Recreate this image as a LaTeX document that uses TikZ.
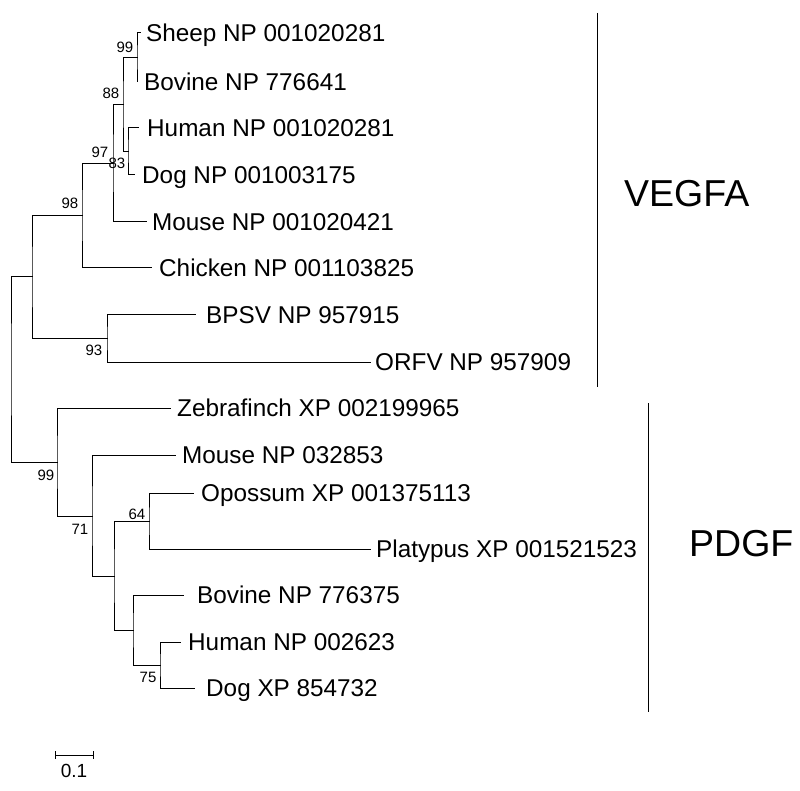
\documentclass[tikz,border=0pt]{standalone}
\usepackage{fontspec}
\setmainfont{Liberation Sans}
\usetikzlibrary{calc}
\tikzset{
  br/.style={line width=1pt, line cap=rect},
  leaf/.style={anchor=west, inner sep=0pt, text height=17.3pt, text depth=0pt, font=\fontsize{24.3}{28}\selectfont},
  boot/.style={anchor=center, inner sep=0pt, text height=10.7pt, text depth=0pt, font=\fontsize{15}{18}\selectfont},
  group/.style={anchor=west, inner sep=0pt, text height=26.8pt, text depth=0pt, font=\fontsize{37.5}{44}\selectfont},
}
\begin{document}
\begin{tikzpicture}[x=1pt,y=-1pt]
\useasboundingbox (0,0) rectangle (800,791);
% leaf ends
\coordinate (lSheep) at (140,33);
\coordinate (lBovine) at (137,82);
\coordinate (lHuman) at (138,128);
\coordinate (lDog) at (134,175);
\coordinate (lMouseV) at (146,222);
\coordinate (lChicken) at (151,268);
\coordinate (lBPSV) at (195,315);
\coordinate (lORFV) at (370,362);
\coordinate (lZebra) at (170,408);
\coordinate (lMouseP) at (175,455);
\coordinate (lOpossum) at (193,493);
\coordinate (lPlatypus) at (370,549);
\coordinate (lBovineP) at (183,595);
\coordinate (lHumanP) at (180,642);
\coordinate (lDogP) at (194,688);
% internal nodes
\coordinate (nSB) at (137,57.5);
\coordinate (nHD) at (128,151.5);
\coordinate (n88) at (123,104.5);
\coordinate (n97) at (113,163.5);
\coordinate (n98) at (82,215.5);
\coordinate (n93) at (107,338.5);
\coordinate (nV) at (32,277);
\coordinate (n75) at (160,665);
\coordinate (nY) at (133,630);
\coordinate (n64) at (149,521);
\coordinate (nX) at (114,576);
\coordinate (n71) at (92,516);
\coordinate (nP) at (57,462);
\coordinate (root) at (11,369.5);
% branches
\draw[br] (lSheep) -| (nSB) |- (lBovine);
\draw[br] (lHuman) -| (nHD) |- (lDog);
\draw[br] (nSB) -| (n88) |- (nHD);
\draw[br] (n88) -| (n97) |- (lMouseV);
\draw[br] (n97) -| (n98) |- (lChicken);
\draw[br] (lBPSV) -| (n93) |- (lORFV);
\draw[br] (n98) -| (nV) |- (n93);
\draw[br] (lHumanP) -| (n75) |- (lDogP);
\draw[br] (lBovineP) -| (nY) |- (n75);
\draw[br] (lOpossum) -| (n64) |- (lPlatypus);
\draw[br] (n64) -| (nX) |- (nY);
\draw[br] (lMouseP) -| (n71) |- (nX);
\draw[br] (lZebra) -| (nP) |- (n71);
\draw[br] (nV) -| (root) |- (nP);
% leaf labels
\node[leaf] (tSheep) at (146,33) {Sheep NP 001020281};
\node[leaf] (tBovine) at (144,82) {Bovine NP 776641};
\node[leaf] (tHuman) at (147,128) {Human NP 001020281};
\node[leaf] (tDog) at (142,175) {Dog NP 001003175};
\node[leaf] (tMouseV) at (152,222) {Mouse NP 001020421};
\node[leaf] (tChicken) at (159,268) {Chicken NP 001103825};
\node[leaf] (tBPSV) at (206,315) {BPSV NP 957915};
\node[leaf] (tORFV) at (375,362) {ORFV NP 957909};
\node[leaf] (tZebra) at (177,408) {Zebrafinch XP 002199965};
\node[leaf] (tMouseP) at (182,455) {Mouse NP 032853};
\node[leaf] (tOpossum) at (201,493) {Opossum XP 001375113};
\node[leaf] (tPlatypus) at (376,549) {Platypus XP 001521523};
\node[leaf] (tBovineP) at (197,595) {Bovine NP 776375};
\node[leaf] (tHumanP) at (188,642) {Human NP 002623};
\node[leaf] (tDogP) at (206,688) {Dog XP 854732};
% bootstrap values
\node[boot] (b99a) at (125,47) {99};
\node[boot] (b88) at (111,93) {88};
\node[boot] (b97) at (100,152) {97};
\node[boot] (b83) at (117,163) {83};
\node[boot] (b98) at (70,203) {98};
\node[boot] (b93) at (94,350) {93};
\node[boot] (b99b) at (46,475) {99};
\node[boot] (b71) at (80,529) {71};
\node[boot] (b64) at (137,514) {64};
\node[boot] (b75) at (148,677) {75};
% group bars
\coordinate (vTop) at (597,13);
\coordinate (vBot) at (597,387);
\draw[br, line cap=butt] (vTop) -- (vBot);
\node[group] (tVEGFA) at (624,193.5) {VEGFA};
\coordinate (pTop) at (648,403);
\coordinate (pBot) at (648,712);
\draw[br, line cap=butt] (pTop) -- (pBot);
\node[group] (tPDGF) at (689,543) {PDGF};
% scale bar
\coordinate (sL) at (55,755);
\coordinate (sR) at (93,755);
\draw[br, line cap=butt] (sL) -- (sR);
\draw[br, line cap=butt] ($(sL)+(0,-4)$) -- ($(sL)+(0,4)$);
\draw[br, line cap=butt] ($(sR)+(0,-4)$) -- ($(sR)+(0,4)$);
\node[anchor=center, inner sep=0pt, text height=13.5pt, text depth=0pt, font=\fontsize{19}{22}\selectfont] (tScale) at (74,771) {0.1};
\end{tikzpicture}
\end{document}
